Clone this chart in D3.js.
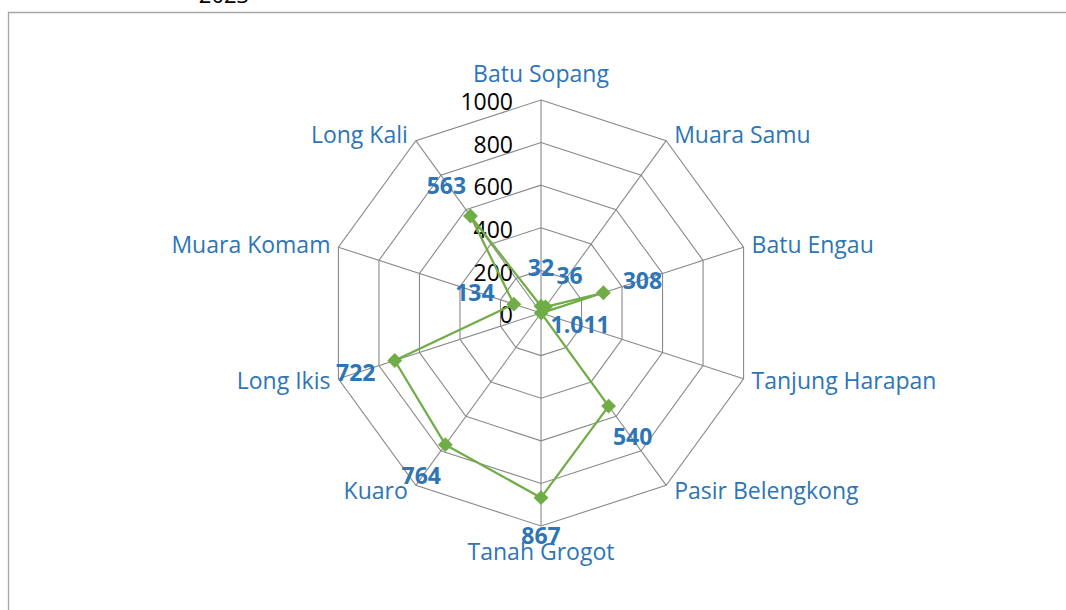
<!DOCTYPE html>
<html>
<head>
<meta charset="utf-8">
<script src="https://cdn.jsdelivr.net/npm/d3@7"></script>
<style>
  body { margin: 0; background: #fff; }
  text { font-family: "Open Sans", sans-serif; }
</style>
</head>
<body>
<div id="chart-area"></div>
<script>
// data
var categories = ["Batu Sopang", "Muara Samu", "Batu Engau", "Tanjung Harapan", "Pasir Belengkong",
                  "Tanah Grogot", "Kuaro", "Long Ikis", "Muara Komam", "Long Kali"];
var values = [32, 36, 308, 1.011, 540, 867, 764, 722, 134, 563];
var tickValues = [0, 200, 400, 600, 800, 1000];
var titleText = "2023";

var width = 1066, height = 610;
var cx = 541, cy = 313;

var svg = d3.select("#chart-area")
    .append("svg")
        .attr("width", width)
        .attr("height", height);

// frame of chart area
svg.append("path")
    .attr("d", "M8.5," + height + " L8.5,12.5 L" + width + ",12.5")
    .attr("fill", "none")
    .attr("stroke", "#a6a6a6")
    .attr("stroke-width", 1.3);

// title, mostly cut off at the top
svg.append("text")
    .attr("x", 224)
    .attr("y", 3)
    .attr("text-anchor", "middle")
    .attr("font-size", "22px")
    .attr("fill", "#000")
    .text(titleText);

var g = svg.append("g")
    .attr("transform", "translate(" + cx + "," + cy + ")");

var r = d3.scaleLinear()
    .domain([0, 1000])
    .range([0, 213]);

var angle = d3.scaleLinear()
    .domain([0, categories.length])
    .range([0, 2 * Math.PI]);

function px(i, v) { return r(v) * Math.sin(angle(i)); }
function py(i, v) { return -r(v) * Math.cos(angle(i)); }

// grid rings
var ring = d3.lineRadial()
    .angle(function(d, i) { return angle(i); })
    .radius(function(d) { return r(d); })
    .curve(d3.curveLinearClosed);

tickValues.slice(1).forEach(function(t) {
    g.append("path")
        .attr("d", ring(categories.map(function() { return t; })))
        .attr("fill", "none")
        .attr("stroke", "#898989")
        .attr("stroke-width", 1.1);
});

// spokes
g.selectAll(".spoke")
    .data(categories)
    .enter().append("line")
        .attr("class", "spoke")
        .attr("x1", 0)
        .attr("y1", 0)
        .attr("x2", function(d, i) { return px(i, 1000); })
        .attr("y2", function(d, i) { return py(i, 1000); })
        .attr("stroke", "#898989")
        .attr("stroke-width", 1.1);

// tick labels
g.selectAll(".tick-label")
    .data(tickValues)
    .enter().append("text")
        .attr("class", "tick-label")
        .attr("x", -28)
        .attr("y", function(d) { return -r(d) + 2; })
        .attr("dy", "0.36em")
        .attr("text-anchor", "end")
        .attr("font-size", "23px")
        .attr("fill", "#000")
        .text(function(d) { return d; });

// category labels
g.selectAll(".cat-label")
    .data(categories)
    .enter().append("text")
        .attr("class", "cat-label")
        .attr("x", function(d, i) {
            var s = Math.sin(angle(i));
            if (Math.abs(s) < 0.1) return px(i, 1000);
            return px(i, 1000) + (s > 0 ? 8 : -8);
        })
        .attr("y", function(d, i) {
            var c = Math.cos(angle(i));
            if (Math.abs(Math.sin(angle(i))) < 0.1) return py(i, 1000) - 26 * c;
            return py(i, 1000) - 7 * c;
        })
        .attr("dy", "0.36em")
        .attr("text-anchor", function(d, i) {
            var s = Math.sin(angle(i));
            if (Math.abs(s) < 0.1) return "middle";
            return s > 0 ? "start" : "end";
        })
        .attr("font-size", "23px")
        .attr("fill", "#2e75b6")
        .text(function(d) { return d; });

// series line
var line = d3.lineRadial()
    .angle(function(d, i) { return angle(i); })
    .radius(function(d) { return r(d); })
    .curve(d3.curveLinearClosed);

g.append("path")
    .attr("d", line(values))
    .attr("fill", "none")
    .attr("stroke", "#70ad47")
    .attr("stroke-width", 2.25)
    .attr("stroke-linejoin", "round");

// diamond markers
g.selectAll(".marker")
    .data(values)
    .enter().append("path")
        .attr("class", "marker")
        .attr("d", d3.symbol().type(d3.symbolSquare).size(110))
        .attr("transform", function(d, i) {
            return "translate(" + px(i, d) + "," + py(i, d) + ") rotate(45)";
        })
        .attr("fill", "#70ad47");

// data labels
g.selectAll(".data-label")
    .data(values)
    .enter().append("text")
        .attr("class", "data-label")
        .attr("x", function(d, i) { return px(i, d) + 41 * Math.sin(angle(i)); })
        .attr("y", function(d, i) { return py(i, d) - 38 * Math.cos(angle(i)); })
        .attr("dy", "0.36em")
        .attr("text-anchor", "middle")
        .attr("font-size", "23px")
        .attr("font-weight", "bold")
        .attr("fill", "#2e75b6")
        .text(function(d) { return String(d); });
</script>
</body>
</html>
